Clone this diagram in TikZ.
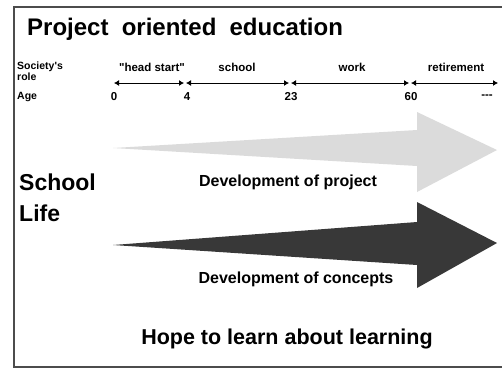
\documentclass[tikz,border=0pt]{standalone}
\usepackage{fontspec}
\setmainfont{Liberation Sans}[Ligatures=TeXOff]
\usetikzlibrary{arrows.meta}
\begin{document}
\begin{tikzpicture}[x=1pt,y=-1pt,
    every node/.style={inner sep=0pt},
    heading/.style={font=\fontsize{24}{24}\selectfont\bfseries},
    smalltext/.style={font=\fontsize{11.5}{11}\selectfont\bfseries},
    midtext/.style={font=\fontsize{16}{16}\selectfont\bfseries},
    bigtext/.style={font=\fontsize{21.5}{22}\selectfont\bfseries},
    period/.style={line width=1pt, shorten <=1pt, shorten >=1pt,
      {Latex[length=5pt,width=6pt]}-{Latex[length=5pt,width=6pt]}}
  ]
  \useasboundingbox (0,0) rectangle (502,368);
  % frame
  \draw[black!70, line width=1.5pt] (510,7) -- (14,7) -- (14,367) -- (510,367);

  \node[heading, anchor=west] (title) at (27,29)
    {Project\hspace{0.55em}oriented\hspace{0.55em}education};

  % time line
  \coordinate (t0) at (113,83);
  \coordinate (t4) at (185,83);
  \coordinate (t23) at (290,83);
  \coordinate (t60) at (410,83);
  \coordinate (tend) at (499,83);
  \draw[period] (t0) -- (t4);
  \draw[period] (t4) -- (t23);
  \draw[period] (t23) -- (t60);
  \draw[period] (t60) -- (tend);

  \node[smalltext, anchor=west, align=left, font=\fontsize{10.5}{10.5}\selectfont\bfseries]
    (role) at (17,71) {Society's\\role};
  \node[smalltext] (headstart) at (152,67) {"head start"};
  \node[smalltext] (school) at (237,67) {school};
  \node[smalltext] (work) at (352,67) {work};
  \node[smalltext] (retire) at (456,67) {retirement};

  \node[smalltext, anchor=west, font=\fontsize{10.5}{10}\selectfont\bfseries]
    (age) at (17,97) {Age};
  \node[smalltext] (a0) at (114,97) {0};
  \node[smalltext] (a4) at (187,97) {4};
  \node[smalltext] (a23) at (291,97) {23};
  \node[smalltext] (a60) at (411,97) {60};
  \node[smalltext] (dots) at (487,97) {---};

  % the two big arrows
  \fill[gray!28] (113,148) -- (417,130) -- (417,112) -- (497,150)
    -- (417,192) -- (417,166) -- cycle;
  \fill[black!78] (113,245) -- (417,222) -- (417,202) -- (497,243)
    -- (417,288) -- (417,265) -- cycle;

  \node[bigtext, anchor=west, align=left, font=\fontsize{23}{31}\selectfont\bfseries]
    (life) at (19,198) {School\\Life};
  \node[midtext] (project) at (288,182) {Development of project};
  \node[midtext] (concepts) at (296,279) {Development of concepts};
  \node[bigtext] (hope) at (287,339) {Hope to learn about learning};
\end{tikzpicture}
\end{document}
